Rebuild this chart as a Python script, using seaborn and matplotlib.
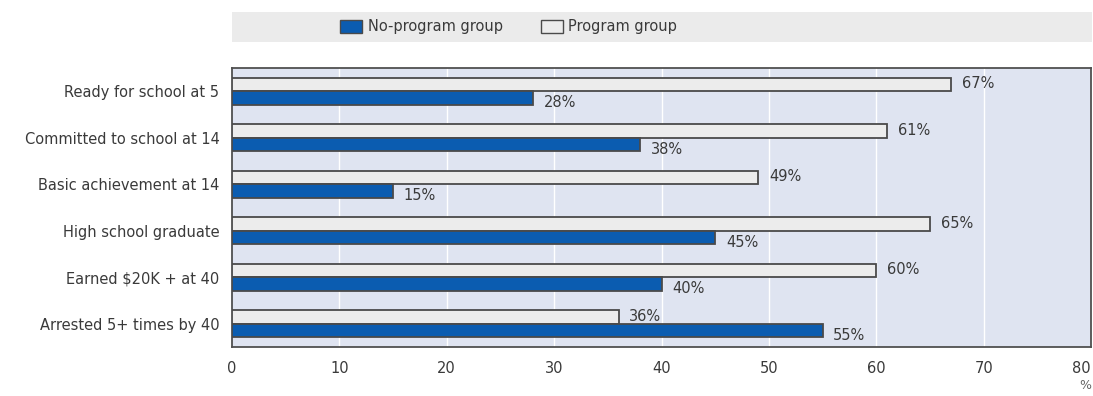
import matplotlib
matplotlib.use("Agg")
import matplotlib.pyplot as plt
from matplotlib.patches import Patch, Rectangle
import seaborn as sns
import pandas as pd

categories = [
    "Ready for school at 5",
    "Committed to school at 14",
    "Basic achievement at 14",
    "High school graduate",
    "Earned $20K + at 40",
    "Arrested 5+ times by 40",
]
program_group = [67, 61, 49, 65, 60, 36]
no_program_group = [28, 38, 15, 45, 40, 55]
series_names = ["Program group", "No-program group"]
x_ticks = [0, 10, 20, 30, 40, 50, 60, 70, 80]

sns.set_theme(style="white")
plt.rcParams["font.family"] = ["DejaVu Sans"]

df = pd.DataFrame({
    "category": categories * 2,
    "value": program_group + no_program_group,
    "group": [series_names[0]] * len(categories) + [series_names[1]] * len(categories),
})

text_color = "#3a3a3a"
blue = "#0b5cb0"
light = "#ececec"
edge = "#4a4a4a"

fig = plt.figure(figsize=(10.93, 3.96), dpi=100)
ax = fig.add_axes([232 / 1093, 1 - 347 / 396, 859 / 1093, (347 - 68) / 396])
ax.set_facecolor("#dfe4f1")

sns.barplot(
    data=df, y="category", x="value", hue="group",
    hue_order=series_names, order=categories,
    palette={series_names[0]: light, series_names[1]: blue},
    saturation=1, width=0.58, dodge=True, legend=False, ax=ax,
    edgecolor=edge, linewidth=1.3, zorder=3,
)

ax.set_xlim(0, 80)
ax.set_ylim(len(categories) - 0.5, -0.5)
ax.set_xticks(x_ticks)
ax.set_xticklabels([str(t) for t in x_ticks], fontsize=10.5, color=text_color)
ax.get_xticklabels()[-1].set_horizontalalignment("right")
ax.tick_params(axis="x", direction="in", length=5, width=1, color="#555555", pad=10)
ax.tick_params(axis="y", length=0, pad=9, labelsize=10.5, labelcolor=text_color)
ax.set_xlabel("")
ax.set_ylabel("")
for t in x_ticks[1:-1]:
    ax.axvline(t, color="white", lw=1.0, zorder=1)
for s in ax.spines.values():
    s.set_color("#505050")
    s.set_linewidth(1.3)

# value labels beside each bar
for container, offset in zip(ax.containers, [-0.02, 0.1]):
    for bar in container:
        w = bar.get_width()
        yc = bar.get_y() + bar.get_height() / 2 + offset
        ax.text(w + 1.0, yc, f"{w:.0f}%", va="center", ha="left",
                fontsize=10.5, color=text_color, zorder=4)

ax.text(1.0, -0.115, "%", transform=ax.transAxes, ha="right", va="top",
        fontsize=9, color="#666666")

# legend band across the top
band = Rectangle((232 / 1093, 1 - 42 / 396), 860 / 1093, 30 / 396,
                 transform=fig.transFigure, facecolor="#ebebeb", edgecolor="none")
fig.patches.append(band)
handles = [
    Patch(facecolor=blue, edgecolor=edge, linewidth=1.0, label=series_names[1]),
    Patch(facecolor=light, edgecolor=edge, linewidth=1.0, label=series_names[0]),
]
fig.legend(handles=handles, loc="center left", bbox_to_anchor=(340 / 1093, 1 - 27 / 396),
           ncol=2, frameon=False, fontsize=10.5, handlelength=1.5, handleheight=0.9,
           handletextpad=0.4, columnspacing=2.6, labelcolor=text_color,
           borderpad=0, borderaxespad=0)

fig.savefig("out.png", dpi=100, facecolor="white")
